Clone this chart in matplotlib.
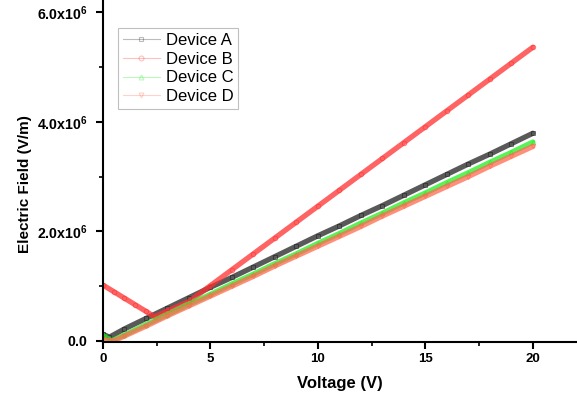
import matplotlib
matplotlib.use('Agg')
import matplotlib.pyplot as plt
from matplotlib.ticker import MultipleLocator, FuncFormatter

plt.rcParams['font.family'] = ['Liberation Sans', 'DejaVu Sans']
plt.rcParams['mathtext.fontset'] = 'custom'
plt.rcParams['mathtext.rm'] = 'Liberation Sans:bold'
plt.rcParams['mathtext.default'] = 'rm'

# ── data (field in units of 1e6 V/m) ──
volt_a = [0, 0.3, 1, 2, 3, 4, 5, 6, 7, 8, 9, 10, 11, 12, 13, 14, 15, 16, 17, 18, 19, 20]
field_a = [0.12, 0.07, 0.22, 0.41, 0.60, 0.79, 0.98, 1.16, 1.35, 1.54, 1.73, 1.92,
           2.10, 2.29, 2.47, 2.66, 2.85, 3.04, 3.23, 3.41, 3.60, 3.79]

volt_b = [0, 0.5, 1, 1.5, 2, 2.4, 3, 4, 5, 6, 7, 8, 9, 10, 11, 12, 13, 14, 15, 16, 17, 18, 19, 20]
field_b = [1.02, 0.90, 0.78, 0.66, 0.54, 0.44, 0.55, 0.72, 1.01, 1.30, 1.59, 1.88, 2.17,
           2.46, 2.75, 3.04, 3.33, 3.62, 3.91, 4.20, 4.49, 4.78, 5.07, 5.36]

volt_c = [0, 0.4, 1, 2, 3, 4, 5, 6, 7, 8, 9, 10, 11, 12, 13, 14, 15, 16, 17, 18, 19, 20]
field_c = [0.10, 0.0, 0.11, 0.30, 0.48, 0.67, 0.85, 1.04, 1.22, 1.41, 1.59, 1.78,
           1.96, 2.15, 2.33, 2.52, 2.70, 2.89, 3.07, 3.26, 3.44, 3.63]

volt_d = [0, 0.5, 1, 2, 3, 4, 5, 6, 7, 8, 9, 10, 11, 12, 13, 14, 15, 16, 17, 18, 19, 20]
field_d = [0.02, 0.0, 0.09, 0.27, 0.46, 0.64, 0.82, 1.00, 1.18, 1.37, 1.55, 1.73,
           1.91, 2.09, 2.28, 2.46, 2.64, 2.82, 3.00, 3.19, 3.37, 3.55]

labels = ['Device A', 'Device B', 'Device C', 'Device D']
colors = ['#222222', '#ff3030', '#22ee22', '#ff6a50']
markers = ['s', 'o', '^', 'v']

fig = plt.figure(figsize=(5.77, 4.01), dpi=100)
ax = fig.add_axes([0.1785, 0.147, 0.8195, 0.85])

series = [(volt_a, field_a), (volt_b, field_b), (volt_c, field_c), (volt_d, field_d)]
for (v, e), lab, col, mk in zip(series, labels, colors, markers):
    e_abs = [val * 1e6 for val in e]
    # thick band imitating the dense marker trace
    ax.plot(v, e_abs, color=col, lw=3.8, alpha=0.75, solid_capstyle='round')
    ax.plot(v, e_abs, color=col, lw=0, marker=mk, ms=3.2, mfc='none', mew=0.7, alpha=0.6)
    # legend handle
    ax.plot([], [], color=col, lw=0.8, alpha=0.3, marker=mk, ms=3.5, mfc='none',
            mec=col, mew=0.8, label=lab)

ax.set_xlim(0, 22)
ax.set_ylim(-0.02e6, 6.2e6)
ax.xaxis.set_major_locator(MultipleLocator(5))
ax.xaxis.set_minor_locator(MultipleLocator(2.5))
ax.yaxis.set_major_locator(MultipleLocator(2e6))
ax.yaxis.set_minor_locator(MultipleLocator(1e6))

def yfmt(val, pos):
    if abs(val) < 1:
        return r'$0.0$'
    return r'$%.1f\mathrm{x}10^{6}$' % (val / 1e6)

ax.yaxis.set_major_formatter(FuncFormatter(yfmt))

for s in ['top', 'right']:
    ax.spines[s].set_visible(False)
for s in ['left', 'bottom']:
    ax.spines[s].set_linewidth(1.5)

ax.tick_params(which='major', direction='out', length=5, width=1.5)
ax.tick_params(axis='x', which='major', pad=3, labelsize=9.5)
ax.tick_params(axis='y', which='major', pad=6, labelsize=10.2)
ax.tick_params(which='minor', direction='out', length=3, width=1.2)
for t in ax.get_xticklabels():
    t.set_fontweight('bold')

ax.set_xlabel('Voltage (V)', fontsize=12, fontweight='bold', labelpad=8)
ax.set_ylabel('Electric Field (V/m)', fontsize=11, fontweight='bold')
ax.yaxis.set_label_coords(-0.15, 0.463)

leg = ax.legend(loc='upper left', bbox_to_anchor=(0.032, 0.921), borderaxespad=0,
                fontsize=12, frameon=True, fancybox=False, handlelength=2.2,
                handletextpad=0.35, labelspacing=0.22, borderpad=0.3)
leg.get_frame().set_edgecolor('#b0b0b0')
leg.get_frame().set_linewidth(0.8)

fig.savefig('out.png', dpi=100)
